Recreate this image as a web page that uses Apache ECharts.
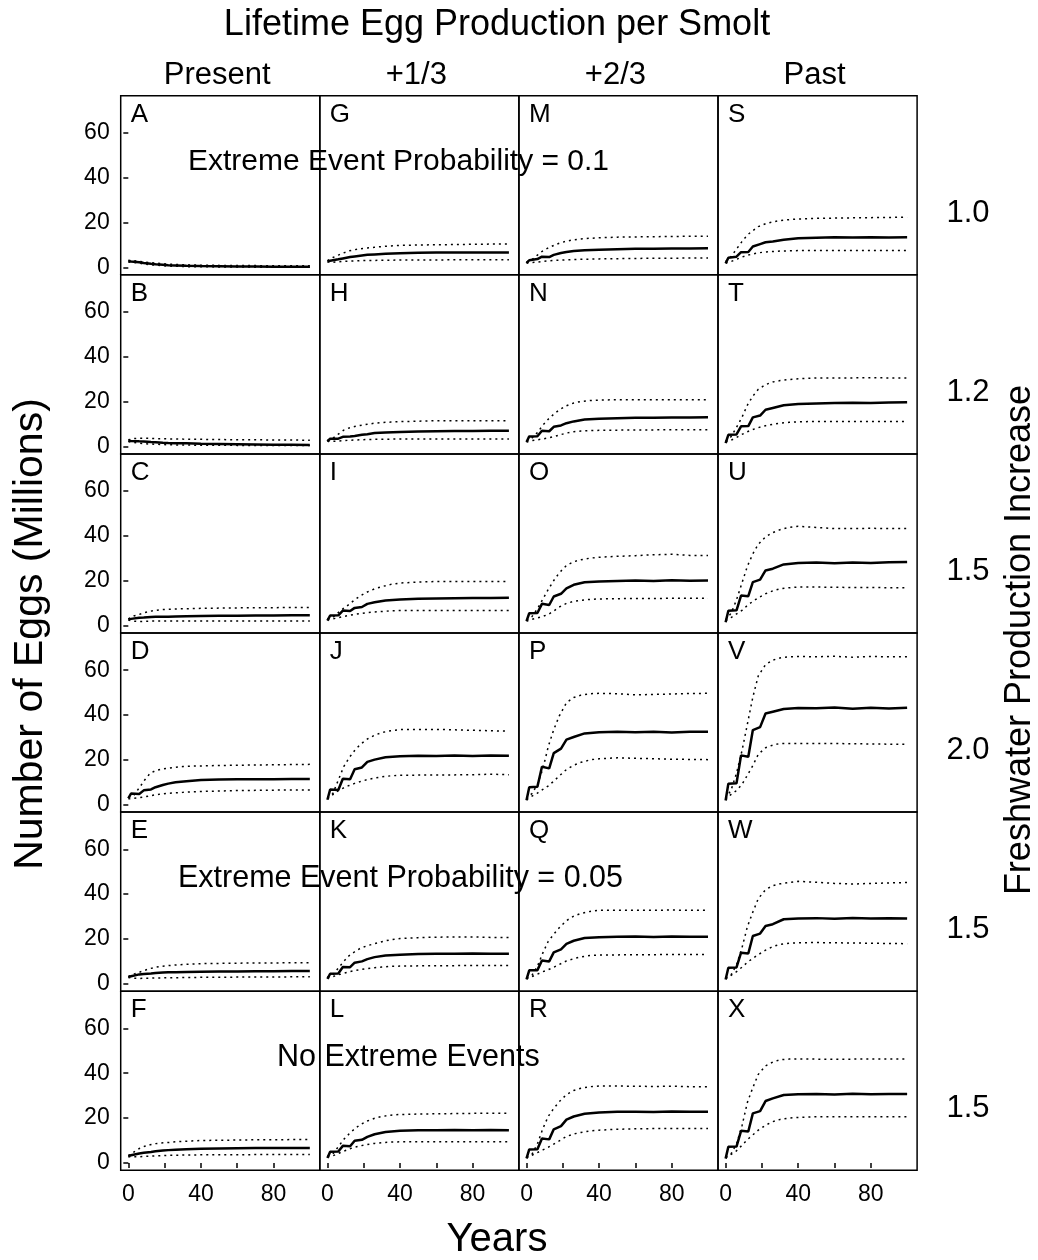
<!DOCTYPE html>
<html>
<head>
<meta charset="utf-8">
<title>Lifetime Egg Production per Smolt</title>
<script src="https://cdn.jsdelivr.net/npm/echarts@6/dist/echarts.min.js"></script>
<style>
  html, body { margin: 0; padding: 0; background: #fff; }
  #chart { width: 1038px; height: 1260px; }
</style>
</head>
<body>
<div id="chart"></div>
<script>
// years sampled for the median (solid) and the bounds (dotted)
var solidYears = [0, 1.5, 6, 8.5, 12.5, 15, 19, 22, 26, 32, 40, 50, 60, 70, 80, 90, 100];
var boundYears = [0, 3, 6, 9, 12, 15, 18, 22, 26, 30, 35, 40, 50, 60, 70, 80, 90, 100];

var columnLabels = ['Present', '+1/3', '+2/3', 'Past'];
var rowLabels = ['1.0', '1.2', '1.5', '2.0', '1.5', '1.5'];
var panelLetters = [
    ['A', 'G', 'M', 'S'],
    ['B', 'H', 'N', 'T'],
    ['C', 'I', 'O', 'U'],
    ['D', 'J', 'P', 'V'],
    ['E', 'K', 'Q', 'W'],
    ['F', 'L', 'R', 'X']
];
var yTicks = [0, 20, 40, 60];
var xTicks = [0, 20, 40, 60, 80];
var xTickLabels = [0, 40, 80];

// Present
var medianPresent = [
    [2.8, 2.6, 2.3, 2.0, 1.6, 1.4, 1.2, 1.0, 0.9, 0.7, 0.6, 0.5, 0.4, 0.4, 0.3, 0.3, 0.3],
    [2.6, 2.5, 2.3, 2.2, 2.0, 1.9, 1.7, 1.6, 1.5, 1.4, 1.2, 1.1, 1.0, 0.9, 0.8, 0.8, 0.7],
    [2.8, 3.0, 3.5, 3.6, 3.8, 3.9, 4.0, 4.0, 4.1, 4.2, 4.3, 4.4, 4.4, 4.5, 4.5, 4.6, 4.6],
    [2.8, 5.0, 4.8, 6.4, 6.8, 7.8, 8.8, 9.4, 10.0, 10.5, 11.0, 11.2, 11.3, 11.4, 11.4, 11.5, 11.5],
    [3.1, 3.4, 4.2, 4.4, 4.6, 4.8, 5.0, 5.1, 5.2, 5.3, 5.4, 5.5, 5.5, 5.6, 5.6, 5.7, 5.7],
    [3.1, 3.4, 4.2, 4.5, 4.9, 5.2, 5.5, 5.7, 5.9, 6.1, 6.3, 6.4, 6.5, 6.6, 6.6, 6.7, 6.7]
];
var upperPresent = [
    [3.2, 3.0, 2.7, 2.4, 2.1, 1.9, 1.7, 1.5, 1.3, 1.2, 1.1, 1.0, 0.9, 0.8, 0.8, 0.7, 0.7, 0.7],
    [3.0, 3.5, 3.7, 3.7, 3.6, 3.5, 3.5, 3.4, 3.4, 3.3, 3.2, 3.2, 3.1, 3.0, 3.0, 2.9, 2.9, 2.8],
    [3.0, 4.3, 5.0, 5.8, 6.4, 6.8, 7.1, 7.3, 7.4, 7.5, 7.6, 7.7, 7.8, 7.9, 8.0, 8.0, 8.1, 8.1],
    [3.2, 4.2, 7.5, 11.0, 14.0, 15.2, 15.8, 16.3, 16.7, 17.0, 17.2, 17.3, 17.5, 17.6, 17.7, 17.8, 17.9, 18.0],
    [3.2, 4.3, 5.1, 6.0, 6.8, 7.4, 7.8, 8.1, 8.4, 8.6, 8.8, 9.0, 9.1, 9.2, 9.3, 9.3, 9.4, 9.4],
    [3.2, 4.8, 6.4, 7.4, 8.1, 8.6, 8.9, 9.1, 9.4, 9.6, 9.8, 10.0, 10.1, 10.2, 10.3, 10.3, 10.4, 10.4]
];
var lowerPresent = [
    [2.4, 2.2, 1.9, 1.5, 1.2, 1.0, 0.8, 0.6, 0.5, 0.4, 0.3, 0.3, 0.2, 0.2, 0.1, 0.1, 0.1, 0.1],
    [2.2, 1.8, 1.5, 1.3, 1.1, 1.0, 0.9, 0.8, 0.7, 0.7, 0.6, 0.6, 0.6, 0.5, 0.5, 0.5, 0.5, 0.5],
    [2.5, 2.0, 1.8, 1.9, 2.0, 2.0, 2.0, 2.1, 2.1, 2.1, 2.1, 2.1, 2.1, 2.1, 2.1, 2.1, 2.1, 2.1],
    [2.6, 2.8, 3.1, 3.5, 4.0, 4.4, 4.8, 5.1, 5.3, 5.5, 5.7, 5.9, 6.1, 6.3, 6.4, 6.5, 6.6, 6.6],
    [2.8, 2.5, 2.4, 2.5, 2.5, 2.6, 2.6, 2.7, 2.7, 2.8, 2.8, 2.9, 2.9, 3.0, 3.0, 3.0, 3.1, 3.1],
    [2.8, 2.7, 2.7, 2.9, 3.0, 3.1, 3.2, 3.4, 3.4, 3.5, 3.5, 3.6, 3.6, 3.6, 3.7, 3.7, 3.7, 3.7]
];

// +1/3
var medianThird = [
    [2.7, 3.0, 3.6, 4.0, 4.6, 4.9, 5.3, 5.6, 5.8, 6.1, 6.3, 6.5, 6.6, 6.6, 6.7, 6.7, 6.7],
    [2.2, 3.5, 3.5, 4.3, 4.5, 4.7, 5.2, 5.5, 6.0, 6.3, 6.5, 6.7, 6.8, 6.9, 6.9, 7.0, 7.0],
    [2.2, 4.5, 4.6, 6.7, 6.5, 7.9, 8.3, 9.7, 10.4, 11.2, 11.6, 12.0, 12.1, 12.2, 12.3, 12.3, 12.4],
    [2.2, 6.8, 6.6, 11.6, 11.4, 15.8, 16.6, 19.1, 20.1, 21.2, 21.6, 21.8, 21.7, 22.0, 21.7, 21.9, 21.8],
    [2.2, 4.5, 4.6, 7.5, 7.4, 9.4, 10.0, 11.0, 11.9, 12.6, 13.0, 13.3, 13.4, 13.4, 13.5, 13.4, 13.4],
    [2.2, 5.0, 5.1, 7.6, 7.4, 9.9, 10.3, 11.6, 12.8, 13.8, 14.3, 14.6, 14.6, 14.7, 14.6, 14.7, 14.6]
];
var upperThird = [
    [3.0, 4.4, 5.5, 6.5, 7.4, 7.9, 8.3, 8.7, 9.0, 9.3, 9.6, 9.8, 10.0, 10.1, 10.2, 10.3, 10.4, 10.4],
    [2.8, 3.7, 5.5, 7.3, 8.3, 8.9, 9.4, 9.9, 10.4, 10.7, 10.9, 11.1, 11.3, 11.5, 11.5, 11.5, 11.5, 11.5],
    [3.0, 3.7, 5.8, 7.8, 9.5, 11.5, 13.2, 15.0, 16.4, 17.4, 18.4, 19.0, 19.4, 19.7, 19.7, 19.7, 19.7, 19.7],
    [3.0, 5.0, 11.0, 17.0, 21.0, 24.2, 26.8, 29.3, 31.0, 32.2, 33.0, 33.5, 33.6, 33.6, 33.4, 33.2, 33.0, 32.8],
    [3.0, 4.0, 7.0, 10.0, 12.6, 14.3, 15.8, 17.0, 17.9, 18.8, 19.7, 20.2, 20.6, 20.8, 20.9, 20.9, 20.7, 20.6],
    [3.0, 4.0, 7.2, 10.5, 13.0, 15.2, 17.0, 18.7, 19.9, 20.7, 21.3, 21.6, 21.8, 21.9, 22.0, 22.1, 22.1, 22.1]
];
var lowerThird = [
    [2.4, 2.3, 2.5, 2.7, 2.8, 2.9, 3.0, 3.1, 3.1, 3.2, 3.2, 3.3, 3.3, 3.3, 3.4, 3.4, 3.4, 3.4],
    [2.4, 2.3, 2.4, 2.6, 2.8, 2.9, 3.0, 3.1, 3.2, 3.2, 3.3, 3.3, 3.4, 3.4, 3.4, 3.4, 3.4, 3.4],
    [2.6, 3.0, 3.5, 4.1, 4.6, 5.0, 5.4, 5.8, 6.1, 6.3, 6.6, 6.7, 6.7, 6.7, 6.7, 6.7, 6.7, 6.7],
    [2.6, 4.5, 6.3, 7.5, 8.6, 9.5, 10.3, 11.2, 11.9, 12.4, 12.9, 13.1, 13.2, 13.3, 13.3, 13.4, 13.6, 13.4],
    [2.6, 3.2, 4.0, 4.7, 5.4, 5.9, 6.3, 6.8, 7.2, 7.5, 7.8, 7.9, 8.0, 8.1, 8.1, 8.2, 8.2, 8.2],
    [2.6, 3.2, 4.2, 5.2, 6.2, 7.0, 7.6, 8.2, 8.7, 9.0, 9.3, 9.4, 9.4, 9.4, 9.4, 9.4, 9.4, 9.4]
];

// +2/3
var medianTwoThirds = [
    [1.9, 3.2, 3.7, 4.8, 4.6, 5.6, 6.4, 6.9, 7.3, 7.7, 7.9, 8.1, 8.3, 8.3, 8.4, 8.4, 8.5],
    [2.0, 4.5, 4.6, 7.0, 6.8, 8.8, 9.4, 10.4, 11.2, 12.0, 12.4, 12.6, 12.8, 12.8, 12.9, 12.9, 13.0],
    [2.0, 5.5, 5.6, 9.7, 9.2, 13.0, 14.2, 16.6, 18.2, 19.3, 19.7, 19.9, 20.1, 19.9, 20.2, 20.0, 20.1],
    [2.0, 7.8, 8.0, 16.9, 16.2, 23.0, 25.0, 29.0, 30.2, 31.8, 32.3, 32.5, 32.3, 32.6, 32.2, 32.5, 32.5],
    [2.0, 6.0, 6.1, 10.4, 10.0, 14.0, 15.4, 17.8, 19.2, 20.4, 20.8, 21.0, 21.1, 20.9, 21.1, 21.0, 21.0],
    [2.0, 6.0, 6.1, 10.9, 10.5, 15.0, 16.4, 19.3, 20.7, 21.9, 22.5, 22.8, 22.8, 22.7, 22.9, 22.8, 22.8]
];
var upperTwoThirds = [
    [2.4, 3.5, 5.5, 7.4, 8.7, 9.8, 10.8, 11.7, 12.3, 12.7, 13.0, 13.2, 13.5, 13.6, 13.7, 13.8, 13.9, 13.9],
    [2.4, 3.8, 6.2, 9.5, 12.2, 14.4, 16.3, 18.2, 19.4, 20.1, 20.5, 20.7, 20.9, 20.9, 20.9, 20.9, 20.9, 20.9],
    [2.4, 4.0, 7.5, 11.8, 16.2, 20.1, 23.5, 26.8, 28.5, 29.4, 30.1, 30.5, 30.9, 31.2, 31.6, 31.8, 31.3, 31.3],
    [2.6, 5.0, 9.0, 16.0, 26.0, 33.5, 39.5, 45.5, 47.8, 48.9, 49.5, 49.7, 49.5, 49.0, 49.2, 49.4, 49.6, 49.7],
    [2.6, 3.8, 7.8, 13.8, 19.0, 22.1, 25.0, 28.2, 30.2, 31.4, 32.3, 32.8, 32.8, 32.8, 32.8, 32.9, 32.8, 32.8],
    [2.6, 3.8, 8.5, 15.3, 20.8, 24.3, 27.3, 30.5, 32.3, 33.3, 34.0, 34.3, 34.3, 34.2, 34.1, 34.2, 34.0, 34.0]
];
var lowerTwoThirds = [
    [2.0, 2.2, 2.4, 2.7, 2.9, 3.1, 3.2, 3.4, 3.5, 3.6, 3.7, 3.8, 3.9, 4.0, 4.1, 4.1, 4.2, 4.2],
    [2.0, 2.6, 3.0, 3.4, 3.8, 4.4, 5.1, 6.0, 6.6, 6.9, 7.1, 7.2, 7.3, 7.4, 7.4, 7.5, 7.5, 7.5],
    [2.0, 2.8, 3.4, 4.1, 5.0, 6.5, 8.3, 9.9, 10.8, 11.3, 11.7, 11.9, 12.0, 12.1, 12.1, 12.2, 12.2, 12.2],
    [2.2, 3.8, 5.2, 6.8, 8.4, 10.5, 12.8, 15.7, 17.6, 18.9, 20.0, 20.5, 20.9, 20.7, 20.5, 20.3, 20.2, 20.1],
    [2.2, 3.2, 4.3, 5.4, 6.3, 7.4, 8.6, 10.2, 11.2, 12.0, 12.6, 12.8, 12.9, 13.0, 13.0, 13.1, 13.1, 13.1],
    [2.2, 3.4, 4.6, 5.8, 7.0, 8.4, 9.8, 11.8, 12.9, 13.6, 14.3, 14.6, 15.0, 15.2, 15.3, 15.4, 15.4, 15.4]
];

// Past
var medianPast = [
    [1.8, 4.3, 4.8, 6.8, 6.9, 9.3, 10.4, 11.2, 11.6, 12.3, 13.0, 13.2, 13.4, 13.3, 13.5, 13.3, 13.4],
    [1.5, 5.2, 5.4, 9.0, 9.1, 13.0, 13.8, 16.4, 17.2, 18.4, 19.0, 19.2, 19.4, 19.5, 19.4, 19.6, 19.7],
    [1.5, 6.6, 6.8, 13.4, 13.1, 19.4, 20.5, 24.6, 25.4, 27.3, 27.9, 28.1, 27.8, 28.2, 27.9, 28.3, 28.4],
    [1.9, 9.4, 9.6, 22.0, 21.4, 33.3, 34.6, 40.7, 41.5, 42.7, 43.1, 43.0, 43.4, 42.8, 43.3, 42.9, 43.3],
    [1.9, 7.2, 7.3, 13.9, 13.5, 21.3, 22.4, 25.8, 26.6, 28.8, 29.1, 29.3, 29.0, 29.4, 29.1, 29.3, 29.1],
    [1.9, 7.2, 7.3, 14.3, 14.0, 22.1, 23.1, 27.6, 28.8, 30.3, 30.6, 30.7, 30.5, 30.8, 30.6, 30.7, 30.7]
];
var upperPast = [
    [2.6, 4.8, 8.2, 11.5, 14.5, 16.4, 18.2, 19.5, 20.3, 20.9, 21.3, 21.6, 21.9, 22.0, 22.1, 22.2, 22.3, 22.4],
    [2.4, 4.4, 8.5, 13.0, 18.5, 22.5, 25.5, 27.6, 28.8, 29.4, 29.9, 30.2, 30.6, 30.6, 30.6, 30.7, 30.6, 30.6],
    [2.6, 5.5, 11.5, 19.0, 26.5, 32.0, 36.3, 39.6, 41.5, 42.8, 43.8, 44.3, 43.8, 43.3, 43.3, 43.4, 43.3, 43.3],
    [2.8, 6.5, 14.0, 24.0, 36.0, 48.0, 57.5, 62.5, 64.5, 65.5, 66.0, 66.1, 66.0, 66.2, 65.8, 66.1, 66.0, 66.0],
    [2.6, 4.0, 8.5, 16.0, 25.5, 32.0, 38.0, 42.0, 43.8, 44.6, 45.2, 45.7, 45.3, 44.8, 44.5, 44.8, 45.0, 45.2],
    [2.6, 4.0, 8.5, 16.5, 27.0, 33.6, 39.5, 43.3, 45.0, 46.0, 46.3, 46.4, 46.3, 46.2, 46.3, 46.4, 46.3, 46.3]
];
var lowerPast = [
    [2.0, 2.6, 3.6, 4.6, 5.4, 6.0, 6.5, 6.9, 7.1, 7.3, 7.4, 7.5, 7.5, 7.5, 7.5, 7.5, 7.5, 7.5],
    [2.0, 2.8, 4.0, 5.4, 6.6, 7.6, 8.4, 9.3, 9.9, 10.4, 10.8, 11.0, 11.2, 11.2, 11.2, 11.2, 11.2, 11.2],
    [2.2, 3.6, 5.2, 6.8, 9.0, 10.8, 12.4, 14.2, 15.5, 16.4, 16.9, 17.2, 17.2, 17.1, 17.0, 17.0, 16.9, 16.9],
    [2.2, 4.6, 6.3, 9.0, 13.2, 17.5, 22.5, 25.4, 26.6, 27.3, 27.3, 27.3, 27.3, 27.3, 27.2, 27.1, 27.0, 26.9],
    [2.2, 3.8, 5.4, 7.4, 9.6, 11.4, 13.0, 15.0, 16.6, 17.6, 18.1, 18.3, 18.4, 18.3, 18.2, 18.1, 18.0, 17.9],
    [2.2, 3.8, 5.4, 7.8, 10.4, 12.5, 14.6, 16.8, 18.4, 19.4, 20.0, 20.3, 20.6, 20.6, 20.6, 20.6, 20.6, 20.6]
];

var medians = [medianPresent, medianThird, medianTwoThirds, medianPast];
var uppers = [upperPresent, upperThird, upperTwoThirds, upperPast];
var lowers = [lowerPresent, lowerThird, lowerTwoThirds, lowerPast];

var FONT = 'Liberation Sans, Arial, Helvetica, sans-serif';
var gridLeft = 120.7, gridTop = 95.7, cellW = 199.1, cellH = 179.1;

function pairs(xs, ys) {
    return xs.map(function (x, i) { return [x, ys[i]]; });
}

var grids = [], xAxes = [], yAxes = [], series = [], graphics = [];

for (var r = 0; r < 6; r++) {
    for (var c = 0; c < 4; c++) {
        var idx = grids.length;
        var bottomRow = r === 5, leftCol = c === 0;
        grids.push({
            left: gridLeft + c * cellW, top: gridTop + r * cellH,
            width: cellW, height: cellH,
            show: true, borderColor: '#000', borderWidth: 1.5, backgroundColor: 'transparent'
        });
        xAxes.push({
            gridIndex: idx, type: 'value', min: -4.2, max: 105.5,
            axisLine: { show: false }, splitLine: { show: false },
            axisTick: { show: bottomRow, customValues: xTicks, length: 5, lineStyle: { color: '#000', width: 1.5 } },
            axisLabel: { show: bottomRow, customValues: xTickLabels, margin: 13, color: '#000', fontSize: 23, fontFamily: FONT }
        });
        yAxes.push({
            gridIndex: idx, type: 'value', min: -3.3, max: 76.6,
            axisLine: { show: false }, splitLine: { show: false },
            axisTick: { show: leftCol, customValues: yTicks, length: 5, lineStyle: { color: '#000', width: 1.5 } },
            axisLabel: { show: leftCol, customValues: yTicks, margin: 11, color: '#000', fontSize: 23, fontFamily: FONT }
        });
        series.push({
            type: 'line', xAxisIndex: idx, yAxisIndex: idx, symbol: 'none', silent: true,
            data: pairs(boundYears, uppers[c][r]),
            lineStyle: { color: '#000', width: 1.5, type: [2, 4] }
        });
        series.push({
            type: 'line', xAxisIndex: idx, yAxisIndex: idx, symbol: 'none', silent: true,
            data: pairs(boundYears, lowers[c][r]),
            lineStyle: { color: '#000', width: 1.5, type: [2, 4] }
        });
        series.push({
            type: 'line', xAxisIndex: idx, yAxisIndex: idx, symbol: 'none', silent: true,
            data: pairs(solidYears, medians[c][r]),
            lineStyle: { color: '#000', width: 2.5 }
        });
        graphics.push({
            type: 'text', left: gridLeft + c * cellW + 10, top: gridTop + r * cellH + 6,
            style: { text: panelLetters[r][c], fontSize: 26, fontFamily: FONT, fill: '#000' }
        });
    }
}

function label(text, x, y, size, rot) {
    return {
        type: 'text', x: x, y: y, rotation: rot || 0, z: 10,
        style: { text: text, fontSize: size, fontFamily: FONT, fill: '#000', align: 'center', verticalAlign: 'middle' }
    };
}

graphics.push(label('Lifetime Egg Production per Smolt', 497, 25, 36));
columnLabels.forEach(function (t, c) {
    graphics.push(label(t, gridLeft + c * cellW + cellW / 2 - 3, 75, 31));
});
rowLabels.forEach(function (t, r) {
    graphics.push(label(t, 968, 213 + r * cellH, 31));
});
graphics.push(label('Freshwater Production Increase', 1020, 640, 36, Math.PI / 2));
graphics.push(label('Number of Eggs (Millions)', 31, 634, 41, Math.PI / 2));
graphics.push(label('Years', 497, 1240, 40));
graphics.push({
    type: 'text', left: 188, top: 147, z: 10,
    style: { text: 'Extreme Event Probability = 0.1', fontSize: 30, fontFamily: FONT, fill: '#000' }
});
graphics.push({
    type: 'text', left: 178, top: 863, z: 10,
    style: { text: 'Extreme Event Probability = 0.05', fontSize: 30.5, fontFamily: FONT, fill: '#000' }
});
graphics.push({
    type: 'text', left: 277, top: 1042, z: 10,
    style: { text: 'No Extreme Events', fontSize: 30.5, fontFamily: FONT, fill: '#000' }
});

var chart = echarts.init(document.getElementById('chart'), null, { renderer: 'canvas' });
chart.setOption({
    animation: false,
    backgroundColor: '#fff',
    textStyle: { fontFamily: FONT },
    grid: grids,
    xAxis: xAxes,
    yAxis: yAxes,
    series: series,
    graphic: graphics
});
</script>
</body>
</html>
